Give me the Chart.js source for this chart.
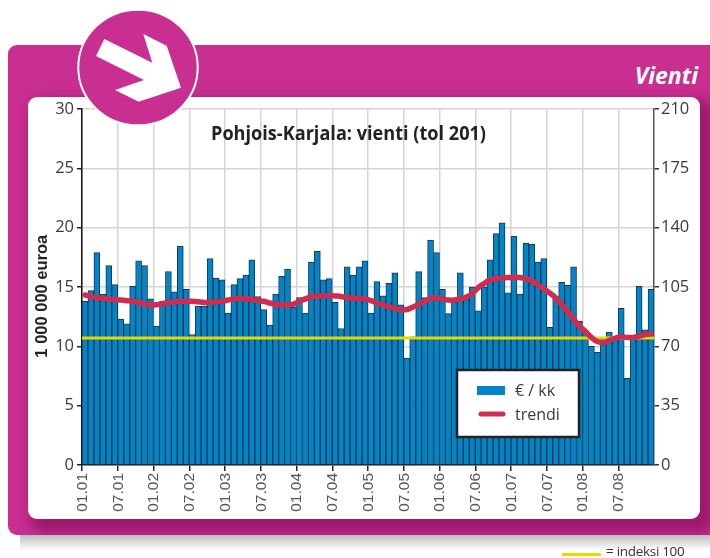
<!DOCTYPE html>
<html lang="fi"><head><meta charset="utf-8">
<script src="https://cdn.jsdelivr.net/npm/chart.js@4"></script>
<style>
html,body{margin:0;padding:0;background:#fff;width:710px;height:558px;overflow:hidden}
#wrap{position:relative;width:710px;height:558px;overflow:hidden;font-family:"Open Sans",sans-serif;color:#333}
#shadow{position:absolute;left:20px;top:535px;width:690px;height:15px;background:linear-gradient(#bcbcbc,#fff)}
#card{position:absolute;left:8px;top:45px;width:720px;height:490px;background:#c92e91;border-radius:9px;overflow:hidden}
#panel{position:absolute;left:20px;top:52px;width:672px;height:422px;background:#fff;border-radius:9px;box-shadow:8px 8px 12px 6px #9c1a6e}
#vienti{position:absolute;right:12px;top:61px;font:italic 700 23px "Open Sans",sans-serif;color:#fff;line-height:28px}
canvas{position:absolute;left:0;top:0}
#badge{position:absolute;left:0;top:0}
#idxline{position:absolute;left:562px;top:553px;width:39px;height:3px;background:#e6dc00}
#idxtext{position:absolute;left:606px;top:543px;font-size:13.5px;line-height:16px;color:#333;letter-spacing:-0.3px}
</style></head><body>
<div id="wrap">
<div id="shadow"></div>
<div id="card"><div id="panel"></div></div>
<div id="vienti">Vienti</div>
<canvas id="c" width="710" height="558"></canvas>
<svg id="badge" width="710" height="558">
<ellipse cx="138" cy="67.5" rx="59.7" ry="57.8" fill="#c92e91" stroke="#fff" stroke-width="2"/>
<polygon fill="#fff" points="104.3,39 152.3,62.7 143.3,34 166.7,45.7 181,87.7 138.7,101.7 115,90 144,80 96,56"/>
</svg>
<div id="idxline"></div>
<div id="idxtext">= indeksi 100</div>
</div>
<script>
const years = ['01','02','03','04','05','06','07','08'];
const months = ['01','02','03','04','05','06','07','08','09','10','11','12'];
const categories = [];
years.forEach(y => months.forEach(m => categories.push(m + '.' + y)));

const seriesValues = [
13.8,14.7,17.9,14.4,16.8,15.2,12.3,11.9,15.05,17.2,16.8,14.0,
11.7,13.8,16.3,14.6,18.45,14.8,11.0,13.4,13.4,17.4,15.75,15.6,
12.8,15.2,15.7,16.0,17.3,14.2,13.1,11.8,14.4,15.9,16.5,13.3,
14.1,12.8,17.1,18.0,15.6,15.7,13.7,11.5,16.7,16.0,16.7,17.2,
12.8,15.45,14.25,15.3,16.2,13.5,9.0,10.8,16.3,14.1,18.95,17.9,
14.8,12.75,13.7,16.2,14.0,15.0,13.0,15.0,17.3,19.5,20.4,14.5,
19.3,14.4,18.7,18.6,17.1,17.4,11.6,14.2,15.4,15.15,16.7,12.1,
11.3,10.0,9.5,10.7,11.2,10.7,13.2,7.3,10.7,15.05,11.4,14.8];

const trendValues = [
14.33,14.2,14.1,14.05,14.0,13.95,13.9,13.85,13.8,13.7,13.6,13.5,
13.5,13.6,13.7,13.75,13.8,13.8,13.8,13.75,13.7,13.7,13.75,13.8,
13.9,14.0,14.05,14.0,13.95,13.85,13.8,13.65,13.55,13.5,13.5,13.55,
13.8,14.0,14.2,14.25,14.25,14.3,14.25,14.2,14.1,14.05,14.05,14.0,
13.85,13.65,13.5,13.35,13.2,13.1,13.1,13.3,13.55,13.8,14.0,14.1,
14.0,13.9,13.9,14.0,14.15,14.45,14.95,15.3,15.6,15.7,15.75,15.8,
15.8,15.8,15.7,15.5,15.2,14.85,14.5,14.1,13.5,12.95,12.3,11.7,
11.25,10.75,10.4,10.3,10.5,10.7,10.8,10.75,10.75,10.85,11.0,11.05];

const indexLevel = 10.7;
const indexValues = categories.map(() => indexLevel);
const leftTicks = [0,5,10,15,20,25,30];
const rightTicks = [0,35,70,105,140,175,210];
const chartTitle = 'Pohjois-Karjala: vienti (tol 201)';
const yTitle = '1 000 000 euroa';
const seriesName = '€ / kk';
const trendName = 'trendi';

const PLOT = {left:82,right:654,top:109,bottom:465};
const BLUE='#0085ca', RED='#d02c50', TXT='#3a3a3a';
const OPEN='"Open Sans",sans-serif';

const decor = {
  id:'decor',
  afterDatasetsDraw(chart){
    const c=chart.ctx;
    c.save();
    c.fillStyle='#222';
    c.font='700 19px '+OPEN;
    c.textAlign='left';c.textBaseline='middle';
    c.fillText(chartTitle,211,135,275);
    c.fillStyle='#fff';c.strokeStyle='#222';c.lineWidth=2.5;
    c.fillRect(457,370,122,67);c.strokeRect(457,370,122,67);
    c.fillStyle=BLUE;c.fillRect(477,386,28,9);
    c.strokeStyle=RED;c.lineWidth=5;c.lineCap='round';
    c.beginPath();c.moveTo(481,414);c.lineTo(503,414);c.stroke();
    c.fillStyle=TXT;c.font='16px '+OPEN;
    c.fillText(seriesName,515,391);
    c.fillText(trendName,515,415);
    c.restore();
  }
};

new Chart(document.getElementById('c'),{
  data:{
    labels:categories,
    datasets:[
      {type:'line',label:trendName,data:trendValues,order:1,borderColor:RED,borderWidth:5.5,pointRadius:0,tension:0.4,borderCapStyle:'round',xAxisID:'x',yAxisID:'y'},
      {type:'line',label:'indeksi 100',data:indexValues,order:2,borderColor:'#e4d800',borderWidth:3,pointRadius:0,xAxisID:'x2',yAxisID:'y'},
      {type:'bar',label:seriesName,data:seriesValues,order:3,backgroundColor:BLUE,borderColor:'#1d3644',borderWidth:1,grouped:false,barPercentage:1,categoryPercentage:1,xAxisID:'x',yAxisID:'y'}
    ]
  },
  options:{
    responsive:false,animation:false,
    layout:{padding:{left:30,right:0,top:PLOT.top,bottom:0}},
    plugins:{legend:{display:false},tooltip:{enabled:false}},
    scales:{
      x:{
        type:'category',offset:true,
        afterFit(s){s.height=558-PLOT.bottom;},
        border:{display:true,color:'#222',width:1.5},
        grid:{offset:true,lineWidth:1.5,tickLength:6,
          color:ctx=>ctx.index%6===0?'#d4d4d4':'rgba(0,0,0,0)',
          tickColor:ctx=>ctx.index%6===0?'#222':'rgba(0,0,0,0)'},
        ticks:{autoSkip:false,maxRotation:90,minRotation:90,labelOffset:-2.5,padding:2,color:'#555',font:{family:'"Liberation Sans",sans-serif',size:15.5},
          callback(v,i){return i%6===0?categories[i]:'';}}
      },
      x2:{type:'category',labels:categories,offset:false,display:false},
      y:{
        position:'left',min:0,max:30,
        afterFit(s){s.width=PLOT.left-30;},
        border:{display:true,color:'#111',width:1.5},
        grid:{color:'#d4d4d4',lineWidth:1.5,tickLength:5,tickColor:'#222'},
        title:{display:true,text:yTitle+'    ',color:'#222',padding:{top:3,bottom:0},font:{family:'"Liberation Sans",sans-serif',weight:'700',size:16.5}},
        ticks:{stepSize:5,padding:3,color:TXT,font:{family:OPEN,size:16.5},callback(v){return leftTicks.includes(v)?String(v):'';}}
      },
      y2:{
        position:'right',min:0,max:210,
        afterFit(s){s.width=710-PLOT.right;},
        border:{display:true,color:'#555',width:1.5},
        grid:{drawOnChartArea:false,tickLength:5,tickColor:'#333',lineWidth:1.5},
        ticks:{stepSize:35,padding:2,color:TXT,font:{family:OPEN,size:16.5},callback(v){return rightTicks.includes(v)?String(v):'';}}
      }
    }
  },
  plugins:[decor]
});
</script>
</body></html>
